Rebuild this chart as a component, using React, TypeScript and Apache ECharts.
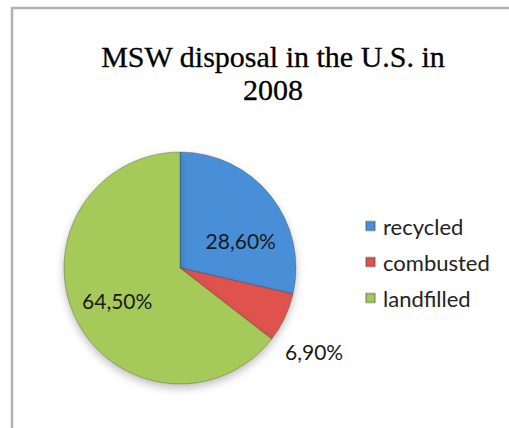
import React, { useEffect, useRef } from "react";
import * as echarts from "echarts";

const titleText = "MSW disposal in the U.S. in\n2008";
const categories = ["recycled", "combusted", "landfilled"];
const values = [28.6, 6.9, 64.5];
const labelTexts = ["28,60%", "6,90%", "64,50%"];
const colors = ["#4a8fd8", "#e0534e", "#a6ca5a"];

export default function App() {
  const ref = useRef<HTMLDivElement>(null);
  useEffect(() => {
    if (!ref.current) return;
    const chart = echarts.init(ref.current, undefined, { renderer: "svg" });
    const labelOffsets = [
      [13, 10],
      [79, 57],
      [-8, 6],
    ];
    chart.setOption({
      animation: false,
      backgroundColor: "#ffffff",
      title: {
        text: titleText,
        left: 268,
        top: 35,
        textAlign: "center",
        textStyle: {
          fontFamily: "Liberation Serif",
          fontSize: 30,
          fontWeight: "normal",
          color: "#000000",
          lineHeight: 33,
          textBorderColor: "#000000",
          textBorderWidth: 0.3,
        },
      },
      legend: {
        orient: "vertical",
        left: 360,
        top: 209,
        itemWidth: 9,
        itemHeight: 9,
        itemGap: 12,
        icon: "rect",
        textStyle: {
          fontFamily: "Lato",
          fontSize: 22,
          color: "#222222",
          lineHeight: 24,
          padding: [0, 0, 0, 3],
        },
        data: categories,
      },
      graphic: [
        {
          type: "rect",
          shape: { x: 12, y: 8, width: 600, height: 500 },
          style: { fill: "none", stroke: "#b2b2b2", lineWidth: 2.5 },
          silent: true,
        },
      ],
      color: colors,
      series: [
        {
          type: "pie",
          center: [180, 268],
          radius: 116,
          startAngle: 90,
          clockwise: true,
          data: categories.map((name, i) => ({ name, value: values[i] })),
          itemStyle: {
            borderColor: "rgba(40,40,40,0.3)",
            borderWidth: 1,
            shadowBlur: 8,
            shadowOffsetY: 4,
            shadowColor: "rgba(0,0,0,0.25)",
          },
          label: {
            show: true,
            position: "inside",
            formatter: (p: any) => labelTexts[p.dataIndex],
            fontFamily: "Lato",
            fontSize: 21,
            color: "#1a1a1a",
          },
          labelLine: { show: false },
          labelLayout: (p: any) => ({
            dx: labelOffsets[p.dataIndex][0],
            dy: labelOffsets[p.dataIndex][1],
          }),
          emphasis: { disabled: true },
        },
      ],
    });
    return () => chart.dispose();
  }, []);
  return (
    <div
      ref={ref}
      style={{ position: "fixed", left: 0, top: 0, width: 509, height: 428 }}
    />
  );
}
